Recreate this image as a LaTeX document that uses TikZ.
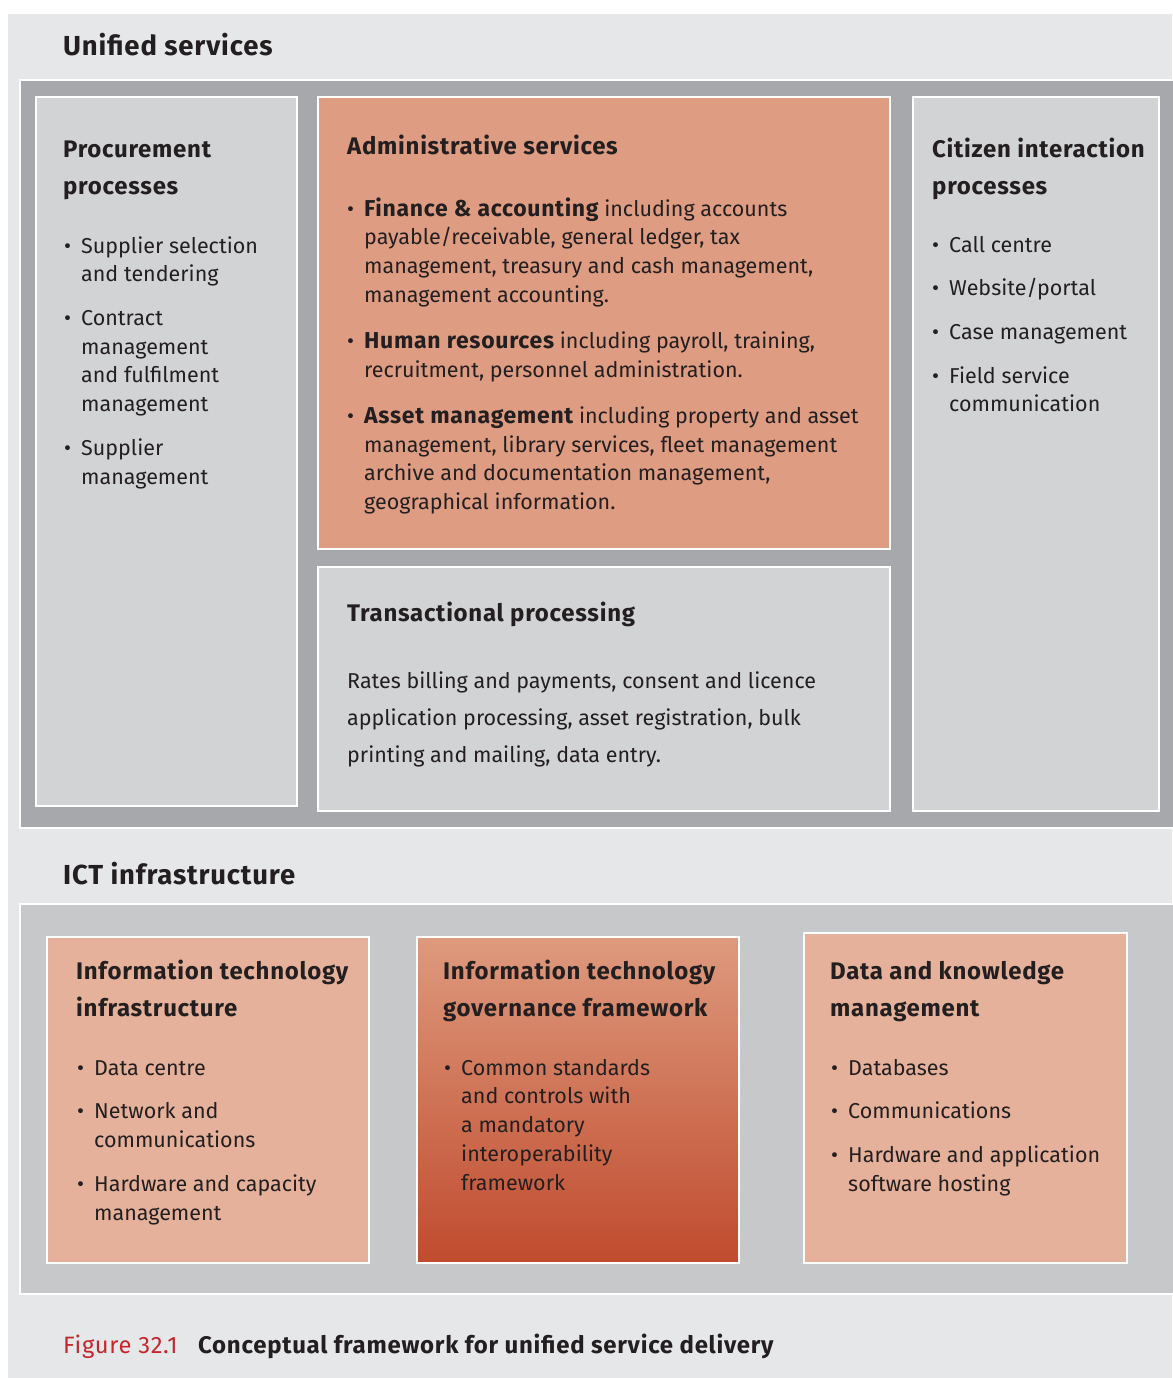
\documentclass[tikz,border=0pt]{standalone}
\usepackage{fontspec}
\setmainfont{Fira Sans}[BoldFeatures={LetterSpace=3}]
\usetikzlibrary{positioning}

\definecolor{panelgray}{HTML}{E6E7E9}
\definecolor{bandgray}{HTML}{A7A8AB}
\definecolor{ictgray}{HTML}{C7C8CA}
\definecolor{boxgray}{HTML}{D2D3D5}
\definecolor{adminsalmon}{HTML}{DE9C82}
\definecolor{ictsalmon}{HTML}{E6B19B}
\definecolor{govtop}{HTML}{DE9A7E}
\definecolor{govbot}{HTML}{C04B2E}
\definecolor{ink}{HTML}{231F20}
\definecolor{figred}{HTML}{C4262E}

\newlength\bulw
\setlength\bulw{17pt}
\newcommand{\itm}{\makebox[\bulw][l]{•}}
\newcommand{\hang}{\hspace*{\bulw}}
\newcommand{\lead}[1]{{\fontsize{23}{28.7}\selectfont\bfseries #1}}

\begin{document}
\begin{tikzpicture}[x=1pt, y=-1pt,
        area/.style={rectangle, anchor=north west, inner sep=0pt, outer sep=0pt},
        band/.style={area, draw=white, line width=1.5pt},
        box/.style={area, draw=white, line width=1.5pt},
        graybox/.style={box, fill=boxgray},
        adminbox/.style={box, fill=adminsalmon},
        ictbox/.style={box, fill=ictsalmon},
        govbox/.style={box, top color=govtop, bottom color=govbot},
        head/.style={anchor=base west, inner sep=0pt, text=ink,
                     font=\fontsize{27.5}{32}\selectfont\bfseries},
        ttl/.style={anchor=north west, inner sep=0pt, align=left, text=ink,
                    font=\fontsize{24}{37}\selectfont\bfseries},
        txt/.style={anchor=north west, inner sep=0pt, align=left, text=ink,
                    font=\fontsize{21.5}{28.7}\selectfont},
        wide/.style={txt, font=\fontsize{21.5}{37}\selectfont}]
      \useasboundingbox (0,0) rectangle (1172,1378);
      \node[area, fill=panelgray, minimum width=1164pt, minimum height=1364pt] (panel) at (8,14) {};

      % unified services
      \node[head] (unified) at (63,56) {Unified services};
      \node[band, fill=bandgray, minimum width=1170pt, minimum height=748pt] (uband) at (20,80) {};
      \node[graybox, minimum width=261pt, minimum height=709pt] (procbox) at (36,97) {};
      \node[adminbox, minimum width=572pt, minimum height=452pt] (adminbox) at (318,97) {};
      \node[graybox, minimum width=572pt, minimum height=244pt] (transbox) at (318,567) {};
      \node[graybox, minimum width=246pt, minimum height=714pt] (citbox) at (913,97) {};

      \node[ttl] (proctitle) at (63,131.1) {\strut Procurement\\processes};
      \node[txt] (proclist) at (64,232.9) {\strut\itm Supplier selection\\
        \hang and tendering\\[15pt]
        \itm Contract\\ \hang management\\ \hang and fulfilment\\ \hang management\\[15pt]
        \itm Supplier\\ \hang management};

      \node[ttl] (admintitle) at (347,128.1) {\strut Administrative services};
      \node[txt] (adminlist) at (347,195.9) {\strut\itm\lead{Finance \& accounting} including accounts\\
        \hang payable/receivable, general ledger, tax\\
        \hang management, treasury and cash management,\\
        \hang management accounting.\\[17.5pt]
        \itm\lead{Human resources} including payroll, training,\\
        \hang recruitment, personnel administration.\\[17.5pt]
        \itm\lead{Asset management} including property and asset\\
        \hang management, library services, fleet management\\
        \hang archive and documentation management,\\
        \hang geographical information.};

      \node[ttl] (transtitle) at (347,595.1) {\strut Transactional processing};
      \node[wide] (transtext) at (347,662.1) {\strut Rates billing and payments, consent and licence\\
        application processing, asset registration, bulk\\
        printing and mailing, data entry.};

      \node[ttl] (cittitle) at (932,131.1) {\strut Citizen interaction\\processes};
      \node[txt] (citlist) at (932,231.9) {\strut\itm Call centre\\[15pt]
        \itm Website/portal\\[15pt]
        \itm Case management\\[15pt]
        \itm Field service\\ \hang communication};

      % ICT infrastructure
      \node[head] (ict) at (63,884) {ICT infrastructure};
      \node[band, fill=ictgray, minimum width=1170pt, minimum height=390pt] (iband) at (20,904) {};
      \node[ictbox, minimum width=322pt, minimum height=326pt] (itbox) at (47,937) {};
      \node[govbox, minimum width=322pt, minimum height=326pt] (govbox) at (417,937) {};
      \node[ictbox, minimum width=323pt, minimum height=330pt] (databox) at (804,933) {};

      \node[ttl] (ittitle) at (76,953.1) {\strut Information technology\\infrastructure};
      \node[txt] (itlist) at (77,1054.9) {\strut\itm Data centre\\[15pt]
        \itm Network and\\ \hang communications\\[15pt]
        \itm Hardware and capacity\\ \hang management};

      \node[ttl] (govtitle) at (443,953.1) {\strut Information technology\\governance framework};
      \node[txt] (govlist) at (444,1054.9) {\strut\itm Common standards\\
        \hang and controls with\\ \hang a mandatory\\ \hang interoperability\\ \hang framework};

      \node[ttl] (datatitle) at (830,953.1) {\strut Data and knowledge\\management};
      \node[txt] (datalist) at (831,1054.9) {\strut\itm Databases\\[15pt]
        \itm Communications\\[15pt]
        \itm Hardware and application\\ \hang software hosting};

      % caption
      \node[anchor=base west, inner sep=0pt, text=figred,
            font=\fontsize{23.7}{28}\selectfont\addfontfeatures{LetterSpace=3}] (fignum) at (63,1353) {Figure 32.1};
      \node[anchor=base west, inner sep=0pt, text=ink,
            font=\fontsize{24}{28}\selectfont\bfseries] (figcap) at (198,1353)
            {Conceptual framework for unified service delivery};
    \end{tikzpicture}
\end{document}
